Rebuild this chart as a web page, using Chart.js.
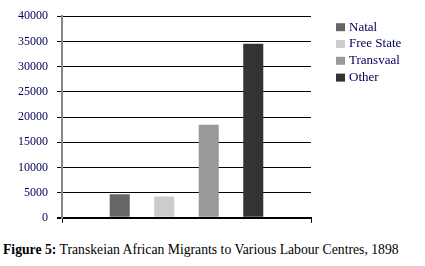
<!DOCTYPE html>
<html>
<head>
<meta charset="utf-8">
<script src="https://cdn.jsdelivr.net/npm/chart.js@4.4.1/dist/chart.umd.min.js"></script>
<style>
  body { margin: 0; background: #fff; }
  #wrap { position: relative; width: 425px; height: 266px; }
  #box { position: absolute; left: 0; top: 0; width: 425px; height: 234px; }
  #caption {
    position: absolute; left: 3px; top: 242px;
    font-family: "Liberation Serif", "Times New Roman", serif; font-size: 13.7px; color: #000;
    white-space: nowrap;
  }
</style>
</head>
<body>
<div id="wrap">
  <div id="box"><canvas id="chart"></canvas></div>
  <div id="caption"><b>Figure 5:</b> Transkeian African Migrants to Various Labour Centres, 1898</div>
</div>
<script>
// values
const categories = ["1898"];
const seriesNames = ["Natal", "Free State", "Transvaal", "Other"];
const natal = [4650];
const freeState = [4230];
const transvaal = [18450];
const other = [34550];
const yMax = 40000;
const yStep = 5000;

const colors = ["#666666", "#cccccc", "#999999", "#333333"];
const allSeries = [natal, freeState, transvaal, other];
const serifFont = "'Liberation Serif', 'Times New Roman', serif";

// legend drawn beside the plot, same as the original layout
const sideLegend = {
  id: "sideLegend",
  afterDraw(chart) {
    const ctx = chart.ctx;
    const area = chart.chartArea;
    ctx.save();
    ctx.font = "13px " + serifFont;
    ctx.textBaseline = "middle";
    chart.data.datasets.forEach((ds, i) => {
      const cy = area.top + 11 + i * 16.8;
      const bx = area.right + 25;
      ctx.fillStyle = ds.backgroundColor;
      ctx.fillRect(bx, cy - 4, 9, 8);
      ctx.fillStyle = "#00005a";
      ctx.fillText(ds.label, bx + 13, cy);
    });
    ctx.restore();
  },
};

const datasets = seriesNames.map((name, i) => ({
  label: name,
  data: allSeries[i],
  backgroundColor: colors[i],
  borderWidth: 0,
}));

new Chart(document.getElementById("chart"), {
  type: "bar",
  data: { labels: categories, datasets: datasets },
  options: {
    responsive: true,
    maintainAspectRatio: false,
    animation: false,
    categoryPercentage: 0.715,
    barPercentage: 0.45,
    layout: { padding: { left: 0, right: 114, top: 16, bottom: 0 } },
    plugins: {
      legend: { display: false },
      tooltip: { enabled: false },
    },
    scales: {
      x: {
        ticks: { display: false },
        grid: { drawOnChartArea: false, tickLength: 5, color: "#000" },
        border: { display: true, color: "#000", width: 2 },
        afterFit: (scale) => { scale.height = 9; },
      },
      y: {
        min: 0,
        max: yMax,
        ticks: {
          stepSize: yStep,
          padding: 9,
          color: "#00005a",
          font: { family: serifFont, size: 12 },
          callback: (v) => String(v),
        },
        grid: {
          color: "#000",
          tickLength: 5,
          lineWidth: (c) => (c.tick && c.tick.value === 0 ? 2 : 1),
        },
        border: { display: true, color: "#888", width: 2 },
        afterFit: (scale) => { scale.width = 62; },
      },
    },
  },
  plugins: [sideLegend],
});
</script>
</body>
</html>
